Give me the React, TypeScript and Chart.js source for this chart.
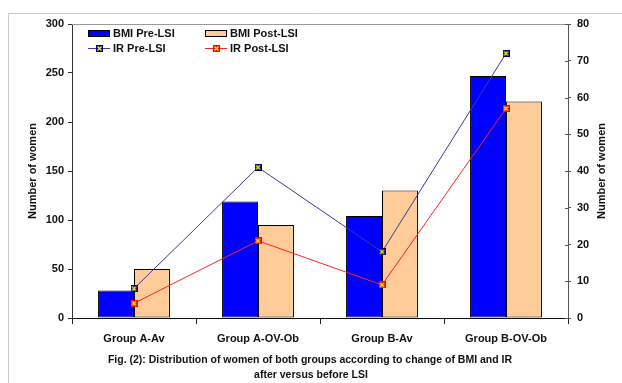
import React, { useEffect, useRef } from "react";
import { Chart, registerables } from "chart.js";

Chart.register(...registerables);

const categories = ["Group A-Av", "Group A-OV-Ob", "Group B-Av", "Group B-OV-Ob"];
const bmiPre = [28, 119, 104, 247];
const bmiPost = [50, 95, 130, 221];
const irPre = [8, 41, 18, 72];
const irPost = [4, 21, 9, 57];
const leftTicks = { min: 0, max: 300, step: 50 };
const rightTicks = { min: 0, max: 80, step: 10 };
const axisTitle = "Number of women";
const caption1 = "Fig. (2): Distribution of women of both groups according to change of BMI and IR";
const caption2 = "after versus before LSI";

const FONT = "'Liberation Sans', Arial, sans-serif";
const NAVY = "#3a3a9a";
const RED = "#ff2020";
const BLUE = "#0000ff";
const PEACH = "#ffcc99";

function makeMarker(fill: string) {
  const c = document.createElement("canvas");
  c.width = 7;
  c.height = 7;
  const g = c.getContext("2d")!;
  g.fillStyle = fill;
  g.fillRect(0, 0, 7, 7);
  g.strokeStyle = "#ffff00";
  g.lineWidth = 1.3;
  g.beginPath();
  g.moveTo(1.5, 1.5);
  g.lineTo(5.5, 5.5);
  g.moveTo(5.5, 1.5);
  g.lineTo(1.5, 5.5);
  g.stroke();
  return c;
}

export default function App() {
  const ref = useRef<HTMLCanvasElement>(null);
  useEffect(() => {
    const canvas = ref.current!;
    const navyMarker = makeMarker("#000080");
    const redMarker = makeMarker("#ff0000");

    const decor = {
      id: "decor",
      beforeDraw(chart: any) {
        const ctx = chart.ctx;
        ctx.save();
        ctx.strokeStyle = "#c8c8c8";
        ctx.lineWidth = 1;
        ctx.beginPath();
        ctx.moveTo(8.5, 400);
        ctx.lineTo(8.5, 13.5);
        ctx.lineTo(640, 13.5);
        ctx.stroke();
        ctx.restore();
      },
      afterDraw(chart: any) {
        const ctx = chart.ctx;
        const a = chart.chartArea;
        ctx.save();
        ctx.strokeStyle = "#999";
        ctx.lineWidth = 1;
        ctx.beginPath();
        ctx.moveTo(a.left, a.top + 0.5);
        ctx.lineTo(a.right, a.top + 0.5);
        ctx.stroke();
        const y1 = chart.scales.y1;
        ctx.strokeStyle = "#555";
        ctx.beginPath();
        for (let v = rightTicks.min; v <= rightTicks.max; v += rightTicks.step) {
          const py = Math.round(y1.getPixelForValue(v)) + 0.5;
          ctx.moveTo(a.right - 3, py);
          ctx.lineTo(a.right, py);
        }
        ctx.stroke();

        ctx.fillStyle = "#111";
        ctx.font = `bold 11px ${FONT}`;
        ctx.textAlign = "center";
        ctx.textBaseline = "middle";
        const midY = (a.top + a.bottom) / 2;
        ctx.save();
        ctx.translate(33, midY);
        ctx.rotate(-Math.PI / 2);
        ctx.fillText(axisTitle, 0, 0);
        ctx.restore();
        ctx.save();
        ctx.translate(602, midY);
        ctx.rotate(-Math.PI / 2);
        ctx.fillText(axisTitle, 0, 0);
        ctx.restore();

        ctx.font = `bold 10.5px ${FONT}`;
        ctx.fillText(caption1, 310, 360);
        ctx.fillText(caption2, 311, 375);

        ctx.font = `bold 11px ${FONT}`;
        ctx.textAlign = "left";
        const items = [
          { x: 88, y: 33, label: "BMI Pre-LSI", type: "bar", color: BLUE },
          { x: 205, y: 33, label: "BMI Post-LSI", type: "bar", color: PEACH },
          { x: 88, y: 48, label: "IR Pre-LSI", type: "line", color: NAVY, marker: navyMarker },
          { x: 205, y: 48, label: "IR Post-LSI", type: "line", color: RED, marker: redMarker },
        ];
        for (const it of items) {
          if (it.type === "bar") {
            ctx.fillStyle = it.color;
            ctx.fillRect(it.x, it.y - 3, 22, 6);
            ctx.strokeStyle = "#000";
            ctx.strokeRect(it.x + 0.5, it.y - 3 + 0.5, 21, 6);
          } else {
            ctx.strokeStyle = it.color;
            ctx.beginPath();
            ctx.moveTo(it.x, it.y + 0.5);
            ctx.lineTo(it.x + 22, it.y + 0.5);
            ctx.stroke();
            ctx.drawImage(it.marker!, it.x + 8, it.y - 3);
          }
          ctx.fillStyle = "#111";
          ctx.fillText(it.label, it.x + 25, it.y + 1);
        }
        ctx.restore();
      },
    };

    const tickFont = { family: FONT, size: 11, weight: "bold" as const };

    const chart = new Chart(canvas, {
      type: "bar",
      data: {
        labels: categories,
        datasets: [
          {
            type: "line",
            label: "IR Pre-LSI",
            data: irPre,
            yAxisID: "y1",
            borderColor: NAVY,
            borderWidth: 1,
            pointStyle: navyMarker as any,
            pointRadius: 4,
            order: 0,
          },
          {
            type: "line",
            label: "IR Post-LSI",
            data: irPost,
            yAxisID: "y1",
            borderColor: RED,
            borderWidth: 1,
            pointStyle: redMarker as any,
            pointRadius: 4,
            order: 0,
          },
          {
            type: "bar",
            label: "BMI Pre-LSI",
            data: bmiPre,
            yAxisID: "y",
            backgroundColor: BLUE,
            borderColor: "#000",
            borderWidth: 1,
            borderSkipped: false,
            categoryPercentage: 0.58,
            barPercentage: 1,
            order: 1,
          },
          {
            type: "bar",
            label: "BMI Post-LSI",
            data: bmiPost,
            yAxisID: "y",
            backgroundColor: PEACH,
            borderColor: "#000",
            borderWidth: 1,
            borderSkipped: false,
            categoryPercentage: 0.58,
            barPercentage: 1,
            order: 1,
          },
        ] as any,
      },
      options: {
        responsive: false,
        animation: false,
        devicePixelRatio: 1,
        layout: { padding: { top: 24, left: 0, right: 0, bottom: 0 } },
        plugins: { legend: { display: false }, tooltip: { enabled: false }, title: { display: false } },
        scales: {
          x: {
            offset: true,
            grid: { offset: true, drawOnChartArea: false, drawTicks: true, tickLength: 6, color: "#222" },
            border: { color: "#111" },
            ticks: { font: tickFont, color: "#111", padding: 8, maxRotation: 0 },
            afterFit: (s: any) => { s.height = 65; },
          },
          y: {
            position: "left",
            min: leftTicks.min,
            max: leftTicks.max,
            grid: { drawOnChartArea: false, drawTicks: true, tickLength: 4, color: "#333" },
            border: { color: "#333" },
            ticks: { stepSize: leftTicks.step, font: tickFont, color: "#111", padding: 4 },
            afterFit: (s: any) => { s.width = 72; },
          },
          y1: {
            position: "right",
            min: rightTicks.min,
            max: rightTicks.max,
            grid: { drawOnChartArea: false, drawTicks: true, tickLength: 3, color: "#555" },
            border: { color: "#555" },
            ticks: { stepSize: rightTicks.step, font: tickFont, color: "#111", padding: 6 },
            afterFit: (s: any) => { s.width = 54; },
          },
        },
      } as any,
      plugins: [decor],
    });
    return () => chart.destroy();
  }, []);

  return (
    <div style={{ position: "fixed", left: 0, top: 0, width: 622, height: 383, background: "#fff" }}>
      <canvas ref={ref} width={622} height={383} style={{ display: "block", width: 622, height: 383 }} />
    </div>
  );
}
